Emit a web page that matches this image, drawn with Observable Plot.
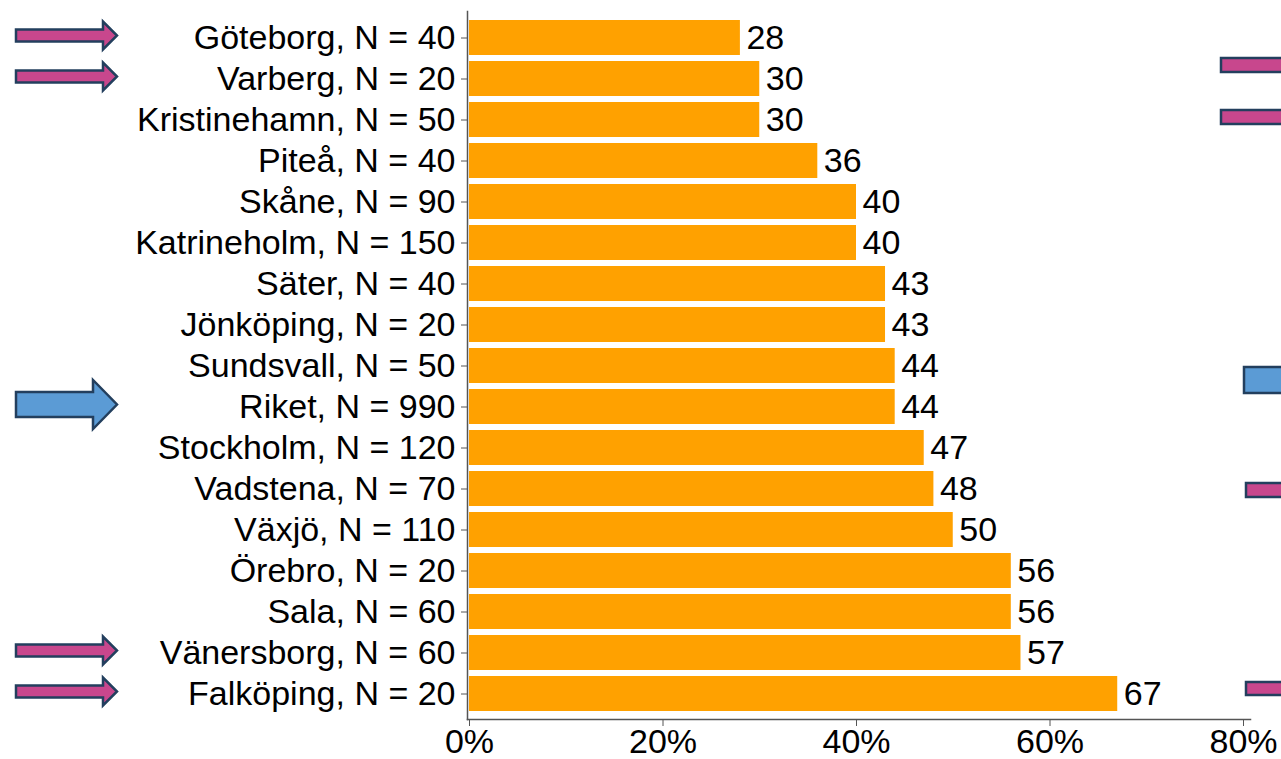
<!DOCTYPE html>
<html>
<head>
<meta charset="utf-8">
<script src="https://cdn.jsdelivr.net/npm/d3@7"></script>
<script src="https://cdn.jsdelivr.net/npm/@observablehq/plot@0.6"></script>
<style>
  html, body { margin: 0; padding: 0; background: #fff; }
  #chart { position: relative; width: 1281px; height: 759px; overflow: hidden; }
</style>
</head>
<body>
<div id="chart"></div>
<script>
const categories = [
  "Göteborg, N = 40", "Varberg, N = 20", "Kristinehamn, N = 50", "Piteå, N = 40",
  "Skåne, N = 90", "Katrineholm, N = 150", "Säter, N = 40", "Jönköping, N = 20",
  "Sundsvall, N = 50", "Riket, N = 990", "Stockholm, N = 120", "Vadstena, N = 70",
  "Växjö, N = 110", "Örebro, N = 20", "Sala, N = 60", "Vänersborg, N = 60",
  "Falköping, N = 20"
];
const values = [28, 30, 30, 36, 40, 40, 43, 43, 44, 44, 47, 48, 50, 56, 56, 57, 67];
const xTicks = [0, 20, 40, 60, 80];
const pinkArrowRows = ["Göteborg, N = 40", "Varberg, N = 20", "Vänersborg, N = 60", "Falköping, N = 20"];
const blueArrowRows = ["Riket, N = 990"];

const data = categories.map((c, i) => ({category: c, value: values[i]}));

const FS = 34;
const plot = Plot.plot({
  width: 1281,
  height: 759,
  marginLeft: 467,
  marginRight: 31,
  marginTop: 11,
  marginBottom: 40,
  insetLeft: 2,
  insetRight: 7,
  style: {fontFamily: "'Liberation Sans', Arial, sans-serif", fontSize: FS + "px", color: "#000", background: "transparent"},
  x: {domain: [0, 80], ticks: xTicks, tickFormat: d => d + "%", label: null},
  y: {domain: categories, padding: 0.15, label: null},
  marks: [
    Plot.barX(data, {x: "value", y: "category", fill: "#ffa100"}),
    Plot.text(data, {x: "value", y: "category", text: d => String(d.value), dx: 6, textAnchor: "start", fill: "#000", fontSize: FS}),
    Plot.axisY({tickSize: 6, tickPadding: 6, stroke: "#555", fill: "#000", fontSize: FS}),
    Plot.axisX({ticks: xTicks, tickFormat: d => d + "%", tickSize: 7, tickPadding: 2, stroke: "#555", fill: "#000", fontSize: FS}),
    Plot.frame({anchor: "left", stroke: "#555", strokeWidth: 1.5}),
    Plot.frame({anchor: "bottom", stroke: "#555", strokeWidth: 1.5})
  ]
});

document.getElementById("chart").appendChild(plot);

// Decorative slide arrows overlaid on the chart
const svg = d3.select(plot);
const y = plot.scale("y");
const border = "#233f5e";
const pink = "#c8478d";
const blue = "#5b9bd5";
function arrow(cy, x0, x1, shaftH, headH, headW, fill) {
  const hs = shaftH / 2, hh = headH / 2, xh = x1 - headW;
  const pts = [[x0, cy - hs], [xh, cy - hs], [xh, cy - hh], [x1, cy], [xh, cy + hh], [xh, cy + hs], [x0, cy + hs]];
  svg.append("polygon")
    .attr("points", pts.map(p => p.join(",")).join(" "))
    .attr("fill", fill).attr("stroke", border).attr("stroke-width", 2.5);
}
pinkArrowRows.forEach(c => arrow(y.apply(c) + y.bandwidth / 2 - 2, 16, 117, 12, 28, 14, pink));
blueArrowRows.forEach(c => arrow(y.apply(c) + y.bandwidth / 2 - 2, 16, 117, 25, 49, 24, blue));

// partially visible shapes cut by the right edge of the slide
const edgeShapes = [
  {x: 1221, y: 58, h: 14, fill: pink},
  {x: 1221, y: 110, h: 14, fill: pink},
  {x: 1244, y: 367, h: 26, fill: blue},
  {x: 1246, y: 483, h: 14, fill: pink},
  {x: 1246, y: 682, h: 13, fill: pink}
];
edgeShapes.forEach(s => {
  svg.append("rect").attr("x", s.x).attr("y", s.y).attr("width", 80).attr("height", s.h)
    .attr("fill", s.fill).attr("stroke", border).attr("stroke-width", 2.5);
});
</script>
</body>
</html>
